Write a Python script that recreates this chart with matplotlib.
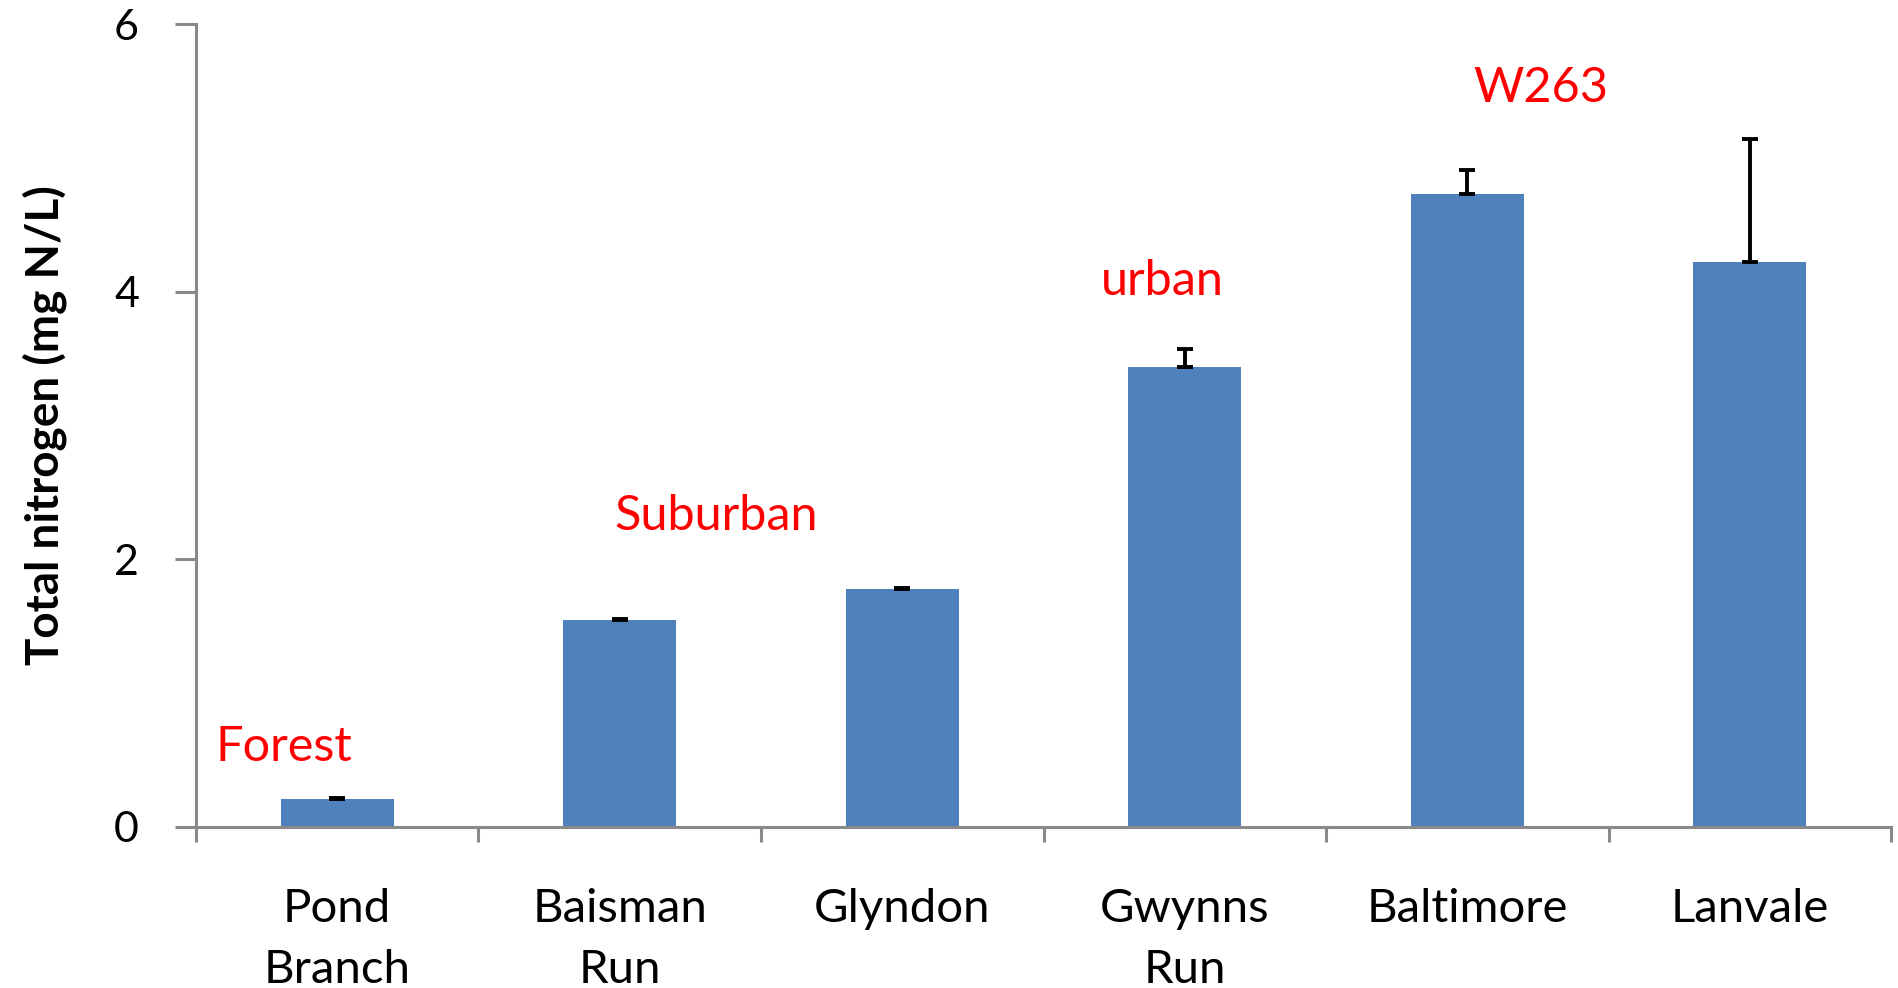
import numpy as np
import matplotlib.pyplot as plt

# données
sites   = ["Pond\nBranch", "Baisman\nRun", "Glyndon", "Gwynns\nRun", "Baltimore", "Lanvale"]
azote   = [0.21, 1.55, 1.78, 3.44, 4.73, 4.22]
erreur  = [0.01, 0.005, 0.005, 0.13, 0.18, 0.92]

etiquettes = ["Forest", "Suburban", "urban", "W263"]
etiq_x     = [-0.19, 1.34, 2.92, 4.26]
etiq_y     = [0.60, 2.32, 4.08, 5.52]

plt.rcParams['font.family'] = ['Lato', 'DejaVu Sans']
gris = "#898989"

fig = plt.figure(figsize=(18.99, 9.88), dpi=100)
ax  = fig.add_axes([0.1032, 0.163, 0.8926, 0.8127])

x = np.arange(len(sites))
ax.bar(x, azote, width=0.4, color="#4F81BD", zorder=2)
ax.errorbar(x, azote, yerr=[np.zeros(len(erreur)), erreur], fmt="none",
            ecolor="black", elinewidth=2.8, capsize=6, capthick=2.8, zorder=3)

for txt, tx, ty in zip(etiquettes, etiq_x, etiq_y):
    ax.text(tx, ty, txt, color="red", fontsize=35, ha="center", va="center")

ax.set_xlim(-0.5, len(sites) - 0.5)
ax.set_ylim(0, 6)
ax.set_yticks([0, 2, 4, 6])
ax.set_xticks(x)
ax.set_xticklabels(sites, fontsize=34, linespacing=1.55)
ax.set_xticks(np.arange(-0.5, len(sites)), minor=True)

ax.tick_params(axis="x", which="major", length=0, pad=44)
ax.tick_params(axis="x", which="minor", length=11, width=2.2, color=gris)
ax.tick_params(axis="y", which="major", length=15, width=2.2, color=gris,
               labelsize=31, pad=26)

for s in ["top", "right"]:
    ax.spines[s].set_visible(False)
for s in ["left", "bottom"]:
    ax.spines[s].set_color(gris)
    ax.spines[s].set_linewidth(2.2)

ax.set_ylabel("Total nitrogen (mg N/L)", fontsize=33, fontweight="bold", labelpad=34)

fig.savefig("out.png", dpi=100)
